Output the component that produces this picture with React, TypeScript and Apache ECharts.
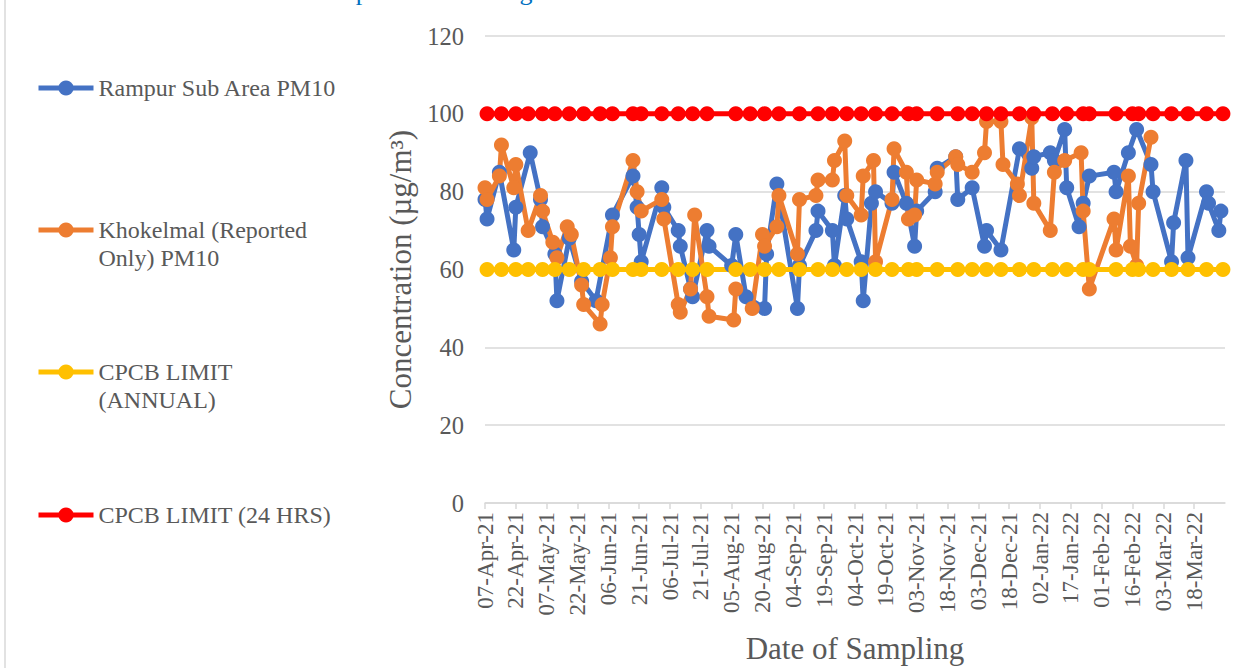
import React, { useEffect, useRef } from "react";
import * as echarts from "echarts";

// ---------- DATA ----------
const sampleDates = [
  "2021-04-07", "2021-04-08", "2021-04-14", "2021-04-15", "2021-04-21", "2021-04-22", "2021-04-28", "2021-04-29",
  "2021-05-04", "2021-05-05", "2021-05-10", "2021-05-11", "2021-05-12", "2021-05-17", "2021-05-18", "2021-05-19",
  "2021-05-24", "2021-05-25", "2021-05-31", "2021-06-02", "2021-06-03", "2021-06-07", "2021-06-08", "2021-06-18",
  "2021-06-20", "2021-06-21", "2021-06-22", "2021-07-02", "2021-07-03", "2021-07-10", "2021-07-11", "2021-07-16",
  "2021-07-17", "2021-07-18", "2021-07-24", "2021-07-25", "2021-08-05", "2021-08-06", "2021-08-07", "2021-08-12",
  "2021-08-15", "2021-08-20", "2021-08-21", "2021-08-22", "2021-08-27", "2021-08-28", "2021-09-06", "2021-09-07",
  "2021-09-15", "2021-09-16", "2021-09-23", "2021-09-24", "2021-09-29", "2021-09-30", "2021-10-07", "2021-10-08",
  "2021-10-12", "2021-10-13", "2021-10-14", "2021-10-22", "2021-10-23", "2021-10-29", "2021-10-30", "2021-11-02",
  "2021-11-03", "2021-11-12", "2021-11-13", "2021-11-22", "2021-11-23", "2021-11-30", "2021-12-06", "2021-12-07",
  "2021-12-14", "2021-12-15", "2021-12-22", "2021-12-23", "2021-12-29", "2021-12-30", "2022-01-07", "2022-01-09",
  "2022-01-14", "2022-01-15", "2022-01-21", "2022-01-22", "2022-01-23", "2022-01-26", "2022-02-07", "2022-02-08",
  "2022-02-14", "2022-02-15", "2022-02-18", "2022-02-19", "2022-02-25", "2022-02-26", "2022-03-07", "2022-03-08",
  "2022-03-14", "2022-03-15", "2022-03-24", "2022-03-25", "2022-03-30", "2022-03-31",
];

const rampurPM10 = [
  78, 73, 85, null, 65, 76, null, 90,
  78, 71, null, 64, 52, null, 68, null,
  57, null, 52, null, null, null, 74, 84,
  76, 69, 62, 81, 76, 70, 66, 55,
  53, null, 70, 66, 61, null, 69, 53,
  null, null, 50, 64, 82, null, 50, 61,
  70, 75, 70, 61, 79, 73, 62, 52,
  77, null, 80, 77, 85, 77, null, 66,
  75, 80, 86, 89, 78, 81, 66, 70,
  65, null, null, 91, 86, 89, 90, 88,
  96, 81, 71, null, 77, 84, 85, 80,
  90, null, 96, null, 87, 80, 62, 72,
  88, 63, 80, 77, 70, 75,
];

const khokelmalPM10 = [
  81, 78, 84, 92, 81, 87, 70, null,
  79, 75, 67, null, 63, 71, null, 69,
  56, 51, null, 46, 51, 63, 71, 88,
  80, null, 75, 78, 73, 51, 49, 55,
  null, 74, 53, 48, null, 47, 55, null,
  50, 69, 66, null, 71, 79, 64, 78,
  79, 83, 83, 88, 93, 79, 74, 84,
  null, 88, 62, 78, 91, 85, 73, 74,
  83, 82, 85, 89, 87, 85, 90, 98,
  98, 87, 82, 79, 99, 77, 70, 85,
  88, null, null, 90, 75, 55, 73, 65,
  84, 66, 61, 77, 94, null, null, null,
  null, null, null, null, null, null,
];

const limitDates = [
  "2021-04-08", "2021-04-15", "2021-04-22", "2021-04-28", "2021-05-05", "2021-05-11", "2021-05-18", "2021-05-25",
  "2021-06-02", "2021-06-08", "2021-06-18", "2021-06-22", "2021-07-02", "2021-07-10", "2021-07-17", "2021-07-24",
  "2021-08-07", "2021-08-14", "2021-08-21", "2021-08-28", "2021-09-07", "2021-09-16", "2021-09-23", "2021-09-30",
  "2021-10-07", "2021-10-14", "2021-10-22", "2021-10-30", "2021-11-03", "2021-11-13", "2021-11-23", "2021-11-30",
  "2021-12-07", "2021-12-14", "2021-12-23", "2021-12-30", "2022-01-08", "2022-01-15", "2022-01-23", "2022-01-26",
  "2022-02-08", "2022-02-16", "2022-02-19", "2022-02-26", "2022-03-07", "2022-03-15", "2022-03-24", "2022-04-01",
];

const cpcbAnnual = [
  60, 60, 60, 60, 60, 60, 60, 60, 60, 60, 60, 60, 60, 60, 60, 60,
  60, 60, 60, 60, 60, 60, 60, 60, 60, 60, 60, 60, 60, 60, 60, 60,
  60, 60, 60, 60, 60, 60, 60, 60, 60, 60, 60, 60, 60, 60, 60, 60,
];

const cpcb24h = [
  100, 100, 100, 100, 100, 100, 100, 100, 100, 100, 100, 100, 100, 100, 100, 100,
  100, 100, 100, 100, 100, 100, 100, 100, 100, 100, 100, 100, 100, 100, 100, 100,
  100, 100, 100, 100, 100, 100, 100, 100, 100, 100, 100, 100, 100, 100, 100, 100,
];

const xTickLabels = [
  "07-Apr-21", "22-Apr-21", "07-May-21", "22-May-21", "06-Jun-21", "21-Jun-21", "06-Jul-21", "21-Jul-21",
  "05-Aug-21", "20-Aug-21", "04-Sep-21", "19-Sep-21", "04-Oct-21", "19-Oct-21", "03-Nov-21", "18-Nov-21",
  "03-Dec-21", "18-Dec-21", "02-Jan-22", "17-Jan-22", "01-Feb-22", "16-Feb-22", "03-Mar-22", "18-Mar-22",
];

const axisStart = "2021-04-07";
const axisEnd = "2022-04-02";

const seriesNames = [
  "Rampur Sub Area PM10",
  "Khokelmal (Reported Only) PM10",
  "CPCB LIMIT (ANNUAL)",
  "CPCB LIMIT (24 HRS)",
];

// ---------- helpers ----------
const DAY = 86400000;
const START = Date.parse(axisStart + "T00:00:00Z");
const dayOf = (iso: string) => Math.round((Date.parse(iso + "T00:00:00Z") - START) / DAY);
const MONTHS: Record<string, number> = {
  Jan: 0, Feb: 1, Mar: 2, Apr: 3, May: 4, Jun: 5, Jul: 6, Aug: 7, Sep: 8, Oct: 9, Nov: 10, Dec: 11,
};
const labelDay = (lbl: string) => {
  const [dd, mon, yy] = lbl.split("-");
  return Math.round((Date.UTC(2000 + Number(yy), MONTHS[mon], Number(dd)) - START) / DAY);
};
const xTickDays = xTickLabels.map(labelDay);

const pairs = (dates: string[], vals: (number | null)[]) =>
  dates
    .map((d, i) => (vals[i] == null ? null : [dayOf(d), vals[i] as number]))
    .filter((p) => p !== null) as number[][];

const FONT = '"Liberation Serif", "Times New Roman", serif';
const GRAY = "#595959";

export default function App() {
  const ref = useRef<HTMLDivElement>(null);

  useEffect(() => {
    if (!ref.current) return;
    const chart = echarts.init(ref.current, undefined, { renderer: "svg" });

    const colors = ["#4472C4", "#ED7D31", "#FFC000", "#FF0000"];
    const legendTops = [74, 188, 330, 501];
    const legendTexts = [
      "Rampur Sub Area PM10",
      "\nKhokelmal (Reported\nOnly) PM10",
      "\nCPCB LIMIT\n(ANNUAL)",
      "CPCB LIMIT (24 HRS)",
    ];

    const mkSeries = (name: string, data: number[][], color: string) => ({
      name,
      type: "line",
      data,
      symbol: "circle",
      symbolSize: 15,
      showSymbol: true,
      itemStyle: { color },
      lineStyle: { color, width: 5 },
      emphasis: { disabled: true },
    });

    chart.setOption({
      animation: false,
      backgroundColor: "#ffffff",
      graphic: [
        {
          type: "line",
          shape: { x1: 5, y1: 0, x2: 5, y2: 668 },
          style: { stroke: "#d9d9d9", lineWidth: 1.5 },
          silent: true,
        },
        {
          type: "text",
          x: 235,
          y: 4,
          style: {
            text: "PM10 Comparative Reading",
            font: `26px ${FONT}`,
            fill: "#0070C0",
            align: "left",
            verticalAlign: "bottom",
            textAlign: "left",
            textVerticalAlign: "bottom",
          },
          silent: true,
        },
      ],
      legend: seriesNames.map((n, i) => ({
        data: [n],
        orient: "vertical",
        left: 36,
        top: legendTops[i],
        padding: 0,
        itemWidth: 55,
        itemHeight: 19,
        itemGap: 0,
        selectedMode: false,
        lineStyle: { width: 5 },
        formatter: () => legendTexts[i],
        textStyle: { fontFamily: FONT, fontSize: 24, color: GRAY, lineHeight: 28 },
      })),
      grid: { left: 485, right: 25, top: 36, bottom: 165, outerBoundsMode: "none", containLabel: false },
      xAxis: {
        type: "value",
        min: 0,
        max: dayOf(axisEnd),
        name: "Date of Sampling",
        nameLocation: "middle",
        nameGap: 130,
        nameTextStyle: { fontFamily: FONT, fontSize: 31, color: GRAY },
        axisLine: { show: true, lineStyle: { color: "#d9d9d9", width: 1.5 } },
        axisTick: {
          show: true,
          customValues: xTickDays,
          length: 6,
          lineStyle: { color: "#d9d9d9", width: 1.5 },
        },
        axisLabel: {
          customValues: xTickDays,
          rotate: 90,
          margin: 9,
          fontFamily: FONT,
          fontSize: 23,
          color: GRAY,
          formatter: (v: number) => {
            const idx = xTickDays.indexOf(Math.round(v));
            return idx >= 0 ? xTickLabels[idx] : "";
          },
        },
        splitLine: { show: false },
      },
      yAxis: {
        type: "value",
        min: 0,
        max: 120,
        interval: 20,
        name: "Concentration (µg/m³)",
        nameLocation: "middle",
        nameGap: 61,
        nameTextStyle: { fontFamily: FONT, fontSize: 31, color: GRAY },
        axisLine: { show: false },
        axisTick: { show: false },
        axisLabel: { margin: 21, fontFamily: FONT, fontSize: 24.5, color: GRAY },
        splitLine: { lineStyle: { color: "#d9d9d9", width: 1.5 } },
      },
      series: [
        mkSeries(seriesNames[0], pairs(sampleDates, rampurPM10), colors[0]),
        mkSeries(seriesNames[1], pairs(sampleDates, khokelmalPM10), colors[1]),
        mkSeries(seriesNames[2], pairs(limitDates, cpcbAnnual), colors[2]),
        mkSeries(seriesNames[3], pairs(limitDates, cpcb24h), colors[3]),
      ],
    });

    return () => chart.dispose();
  }, []);

  return (
    <div
      ref={ref}
      style={{ position: "fixed", left: 0, top: 0, width: 1250, height: 668, background: "#fff" }}
    />
  );
}
